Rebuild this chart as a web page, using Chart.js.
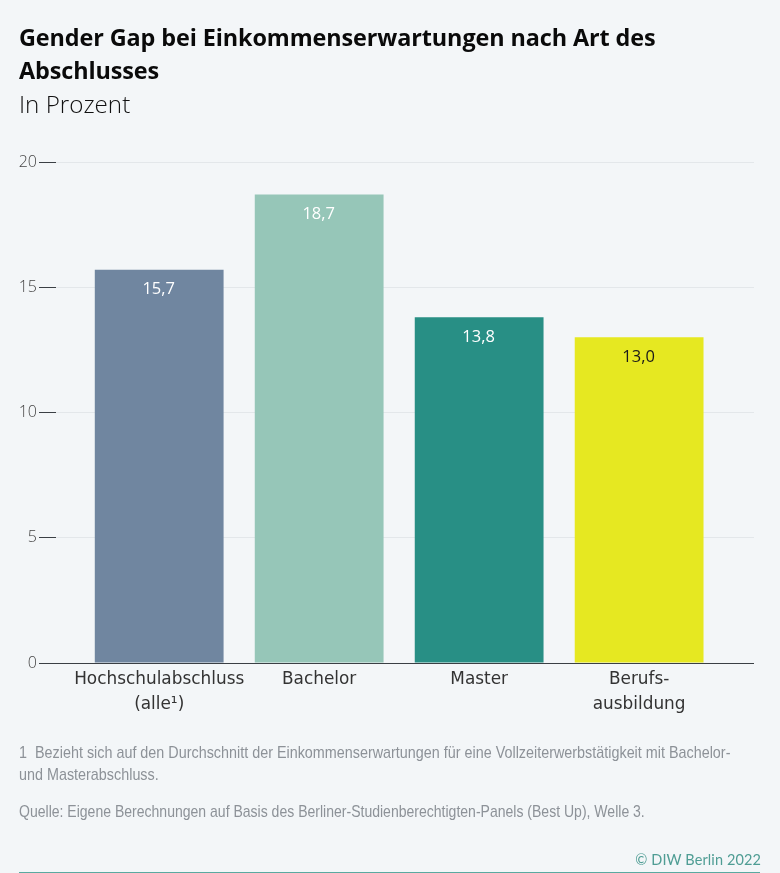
<!DOCTYPE html>
<html lang="de">
<head>
<meta charset="utf-8">
<title>Gender Gap</title>
<script src="https://cdn.jsdelivr.net/npm/chart.js@4"></script>
<style>
  html,body{margin:0;padding:0;background:#f3f6f8;}
  #wrap{position:relative;width:780px;height:873px;overflow:hidden;background:#f3f6f8;}
  #c{position:absolute;left:0;top:0;}
  .t{position:absolute;white-space:nowrap;}
  #title{left:19px;top:21px;font:700 23.4px/33px "Open Sans",sans-serif;color:#0a0a0a;letter-spacing:-0.1px;}
  #sub{left:19px;top:87px;font:300 24.2px/33px "Open Sans",sans-serif;color:#111;}
  .note{left:19px;font:400 17px/22px "Liberation Sans",sans-serif;color:#8d9298;transform-origin:0 0;transform:scaleX(.825);}
  .wide{transform:scaleX(.845);}
  #copy{right:19px;top:849px;font:400 14.5px/22px "Lato",sans-serif;color:#4f9d94;letter-spacing:.1px;}
  #rule{position:absolute;left:19px;width:741px;top:872px;height:1px;background:#5aa9a0;}
</style>
</head>
<body>
<div id="wrap">
  <canvas id="c" width="780" height="873"></canvas>
  <div class="t" id="title">Gender Gap bei Einkommenserwartungen nach Art des<br>Abschlusses</div>
  <div class="t" id="sub">In Prozent</div>
  <div class="t note wide" style="top:742px">1&nbsp;&nbsp;Bezieht sich auf den Durchschnitt der Einkommenserwartungen für eine Vollzeiterwerbstätigkeit mit Bachelor-<br>und Masterabschluss.</div>
  <div class="t note" style="top:801px">Quelle: Eigene Berechnungen auf Basis des Berliner-Studienberechtigten-Panels (Best Up), Welle 3.</div>
  <div class="t" id="copy">© DIW Berlin 2022</div>
  <div id="rule"></div>
</div>
<script>
const categories = [["Hochschulabschluss","(alle¹)"],["Bachelor"],["Master"],["Berufs-","ausbildung"]];
const values = [15.7, 18.7, 13.8, 13.0];
const barColors = ["#7086a0","#96c6b8","#288f85","#e6e821"];
const labelColors = ["#ffffff","#ffffff","#ffffff","#1a1a1a"];
const yTicks = [0,5,10,15,20];

const valueLabels = {
  id:'valueLabels',
  afterDatasetsDraw(chart){
    const ctx = chart.ctx;
    ctx.save();
    ctx.font = '400 16.5px "Open Sans",sans-serif';
    ctx.textAlign = 'center';
    ctx.textBaseline = 'middle';
    chart.getDatasetMeta(0).data.forEach((el,i)=>{
      ctx.fillStyle = labelColors[i];
      ctx.fillText(values[i].toFixed(1).replace('.',','), el.x - 0.5, el.y + 19.5);
    });
    ctx.restore();
  }
};

new Chart(document.getElementById('c'),{
  type:'bar',
  data:{
    datasets:[{
      data:values.map((v,i)=>({x:i,y:v})),
      backgroundColor:barColors,
      borderWidth:0,
      categoryPercentage:0.805,
      barPercentage:1
    }]
  },
  options:{
    responsive:false,
    animation:false,
    devicePixelRatio:1,
    layout:{padding:{left:0,right:26,top:162,bottom:0}},
    plugins:{legend:{display:false},tooltip:{enabled:false},title:{display:false}},
    scales:{
      x:{
        type:'linear',
        offset:false,
        min:-0.645,
        max:3.718,
        afterBuildTicks(s){ s.ticks = categories.map((c,i)=>({value:i})); },
        afterFit(s){ s.height = 210; },
        grid:{display:false,drawTicks:false},
        border:{display:false},
        ticks:{
          autoSkip:false,
          maxRotation:0,
          padding:5,
          color:'#333333',
          font:{family:'"DejaVu Sans",sans-serif',size:16.9,lineHeight:1.43},
          callback(v){ return categories[v]; }
        }
      },
      y:{
        min:0,max:20,
        afterBuildTicks(s){ s.ticks = yTicks.map(v=>({value:v})); },
        afterFit(s){ s.width = 56; },
        border:{display:false},
        grid:{
          color(c){ return c.tick && c.tick.value===0 ? '#3a3f44' : '#e3e7ea'; },
          tickColor:'#3a3f44',
          tickLength:17,
          lineWidth:1
        },
        ticks:{
          padding:2,
          color:'#444444',
          font:{family:'"Open Sans",sans-serif',size:16,weight:300},
          callback(v){ return v; }
        }
      }
    }
  },
  plugins:[valueLabels]
});
</script>
</body>
</html>
